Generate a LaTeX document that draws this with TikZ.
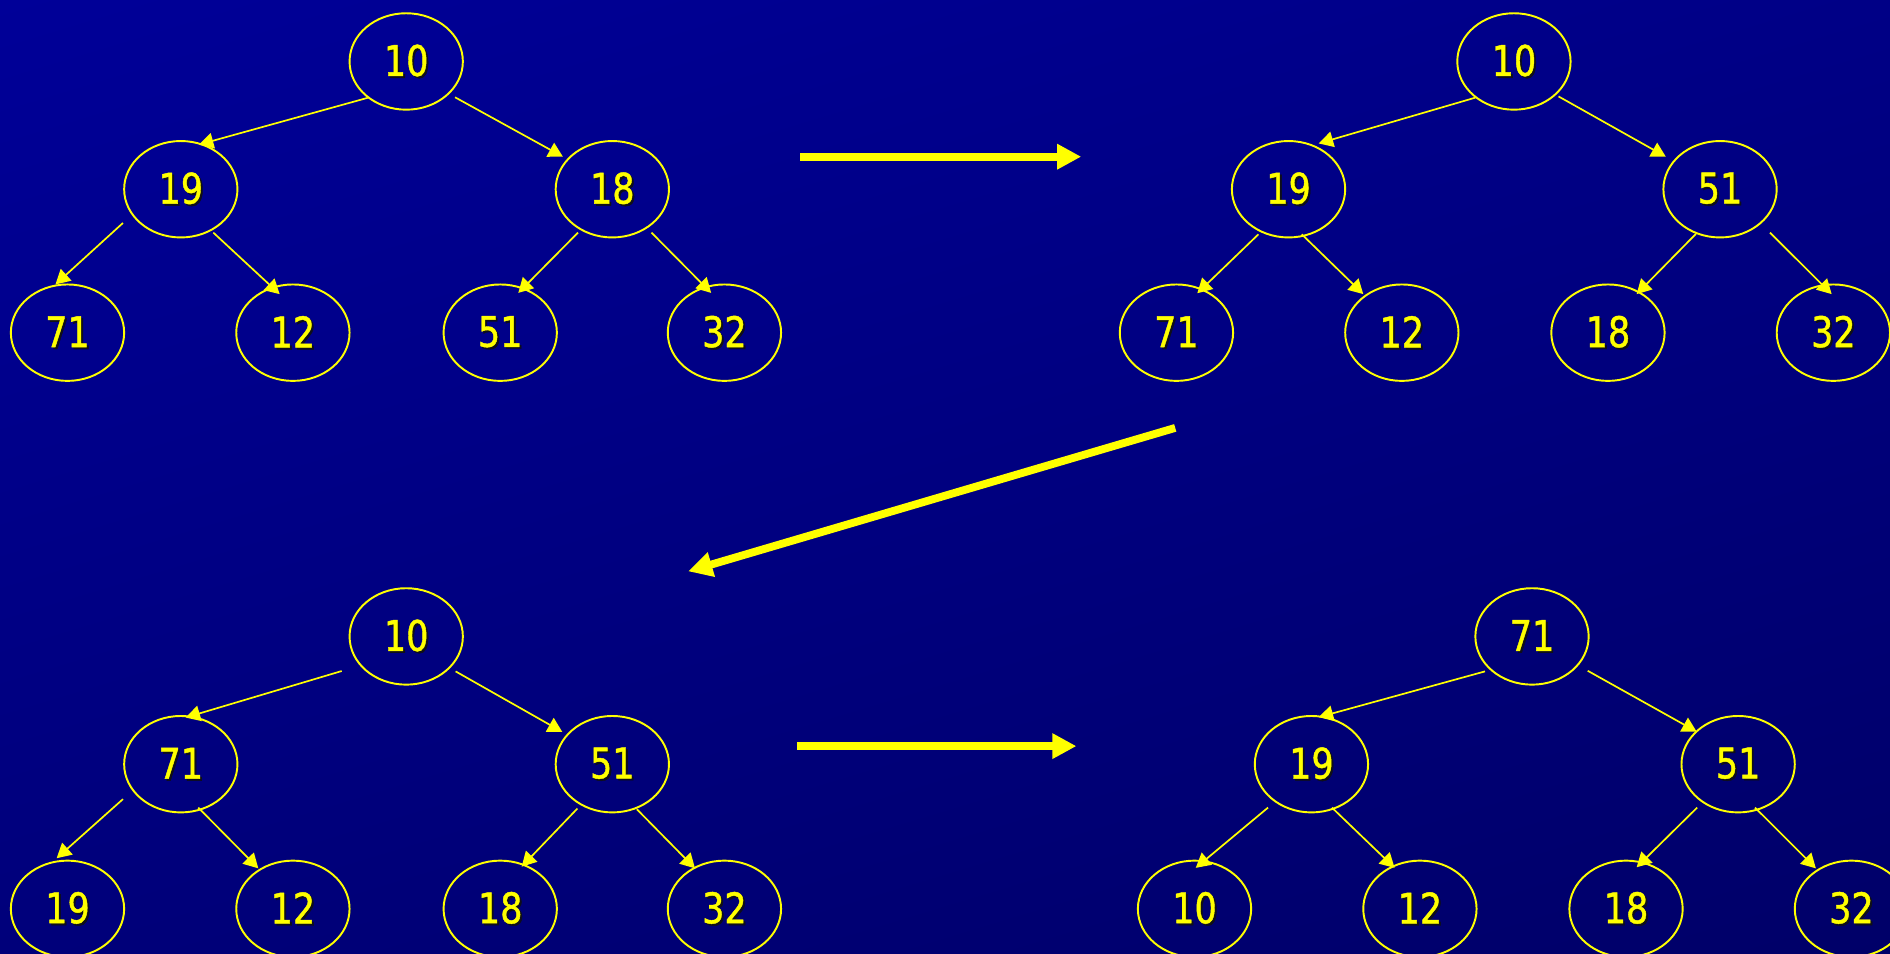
\documentclass[tikz,border=0pt]{standalone}
\usepackage{fontspec}
\setmainfont[FakeStretch=0.83,FakeBold=1.0]{DejaVu Sans}
\usetikzlibrary{shapes.geometric,arrows.meta,shadings,calc}
\definecolor{bgA}{RGB}{0,0,152}
\definecolor{bgB}{RGB}{0,0,134}
\definecolor{bgC}{RGB}{0,0,122}
\definecolor{bgD}{RGB}{0,0,104}
\definecolor{ylw}{RGB}{255,255,0}
\definecolor{shd}{RGB}{15,15,25}
\newcommand{\shtxt}[1]{\rlap{\kern1.6pt\raisebox{-1.6pt}{\color{shd}#1}}#1}
\tikzset{
  hn/.style={ellipse,draw=ylw,line width=1.6pt,minimum width=94pt,minimum height=80pt,inner sep=0pt,
    text=ylw,font=\fontsize{35}{40}\selectfont},
  edge/.style={draw=ylw,line width=1.4pt,-{Triangle[length=12pt,width=13pt]}},
  bigarrow/.style={draw=ylw,line width=6.5pt,-{Triangle[length=20pt,width=20pt]}}
}
\begin{document}
\begin{tikzpicture}[x=1pt,y=-1pt]
\useasboundingbox (0,0) rectangle (1568,791);
\shade[upper left=bgA,upper right=bgB,lower left=bgC,lower right=bgD] (0,0) rectangle (1568,791);
% Tree A (top left)
\node[hn] (A10) at (337,51) {\shtxt{10}};
\node[hn] (A19) at (150,157) {\shtxt{19}};
\node[hn] (A18) at (508,157) {\shtxt{18}};
\node[hn] (A71) at (56,276) {\shtxt{71}};
\node[hn] (A12) at (243,276) {\shtxt{12}};
\node[hn] (A51) at (415,276) {\shtxt{51}};
\node[hn] (A32) at (601,276) {\shtxt{32}};
\draw[edge] ($(A10)+(-31.4,30)$) -- ($(A19)+(15,-37)$);
\draw[edge] ($(A10)+(40.5,29.7)$) -- ($(A18)+(-41,-27)$);
\draw[edge] ($(A19)+(-48,28)$) -- ($(A71)+(-10,-40)$);
\draw[edge] ($(A19)+(27,36)$) -- ($(A12)+(-11,-32)$);
\draw[edge] ($(A18)+(-28.5,36)$) -- ($(A51)+(15,-33)$);
\draw[edge] ($(A18)+(32.5,36)$) -- ($(A32)+(-11,-33)$);
% Tree B (top right)
\node[hn] (B10) at (1256,51) {\shtxt{10}};
\node[hn] (B19) at (1069,157) {\shtxt{19}};
\node[hn] (B51) at (1427,157) {\shtxt{51}};
\node[hn] (B71) at (976,276) {\shtxt{71}};
\node[hn] (B12) at (1163,276) {\shtxt{12}};
\node[hn] (B18) at (1334,276) {\shtxt{18}};
\node[hn] (B32) at (1521,276) {\shtxt{32}};
\draw[edge] ($(B10)+(-32,30)$) -- ($(B19)+(25,-38)$);
\draw[edge] ($(B10)+(37,29)$) -- ($(B51)+(-45,-27)$);
\draw[edge] ($(B19)+(-25,37.4)$) -- ($(B71)+(17.3,-32.7)$);
\draw[edge] ($(B19)+(11,37.4)$) -- ($(B12)+(-32,-32)$);
\draw[edge] ($(B51)+(-20,37)$) -- ($(B18)+(23.8,-32)$);
\draw[edge] ($(B51)+(41.4,36)$) -- ($(B32)+(-1.4,-32)$);
% Tree C (bottom left)
\node[hn] (C10) at (337,528) {\shtxt{10}};
\node[hn] (C71) at (150,634) {\shtxt{71}};
\node[hn] (C51) at (508,634) {\shtxt{51}};
\node[hn] (C19) at (56,754) {\shtxt{19}};
\node[hn] (C12) at (243,754) {\shtxt{12}};
\node[hn] (C18) at (415,754) {\shtxt{18}};
\node[hn] (C32) at (601,754) {\shtxt{32}};
\draw[edge] ($(C10)+(-53.5,28.7)$) -- ($(C71)+(4,-38.7)$);
\draw[edge] ($(C10)+(41,29)$) -- ($(C51)+(-41.5,-26.8)$);
\draw[edge] ($(C71)+(-48,29)$) -- ($(C19)+(-9,-42)$);
\draw[edge] ($(C71)+(14.5,36)$) -- ($(C12)+(-28.7,-33.6)$);
\draw[edge] ($(C51)+(-29,36.8)$) -- ($(C18)+(17.8,-35)$);
\draw[edge] ($(C51)+(20.4,37.4)$) -- ($(C32)+(-24.4,-33.6)$);
% Tree D (bottom right)
\node[hn] (D71) at (1271,528) {\shtxt{71}};
\node[hn] (D19) at (1088,634) {\shtxt{19}};
\node[hn] (D51) at (1442,634) {\shtxt{51}};
\node[hn] (D10) at (991,754) {\shtxt{10}};
\node[hn] (D12) at (1178,754) {\shtxt{12}};
\node[hn] (D18) at (1349,754) {\shtxt{18}};
\node[hn] (D32) at (1536,754) {\shtxt{32}};
\draw[edge] ($(D71)+(-39,29)$) -- ($(D19)+(6,-39)$);
\draw[edge] ($(D71)+(46.2,28.5)$) -- ($(D51)+(-34.4,-27)$);
\draw[edge] ($(D19)+(-36,36)$) -- ($(D10)+(1,-34)$);
\draw[edge] ($(D19)+(17,36)$) -- ($(D12)+(-21,-34)$);
\draw[edge] ($(D51)+(-34,36)$) -- ($(D18)+(8.8,-34.5)$);
\draw[edge] ($(D51)+(14,36)$) -- ($(D32)+(-29.5,-33.6)$);
% Big step arrows
\coordinate (s1) at (664,130);
\coordinate (e1) at (897,130);
\coordinate (s2) at (975,355);
\coordinate (e2) at (571,474);
\coordinate (s3) at (661,619);
\coordinate (e3) at (893,619);
\draw[bigarrow] (s1) -- (e1);
\draw[bigarrow] (s2) -- (e2);
\draw[bigarrow] (s3) -- (e3);
\end{tikzpicture}
\end{document}
